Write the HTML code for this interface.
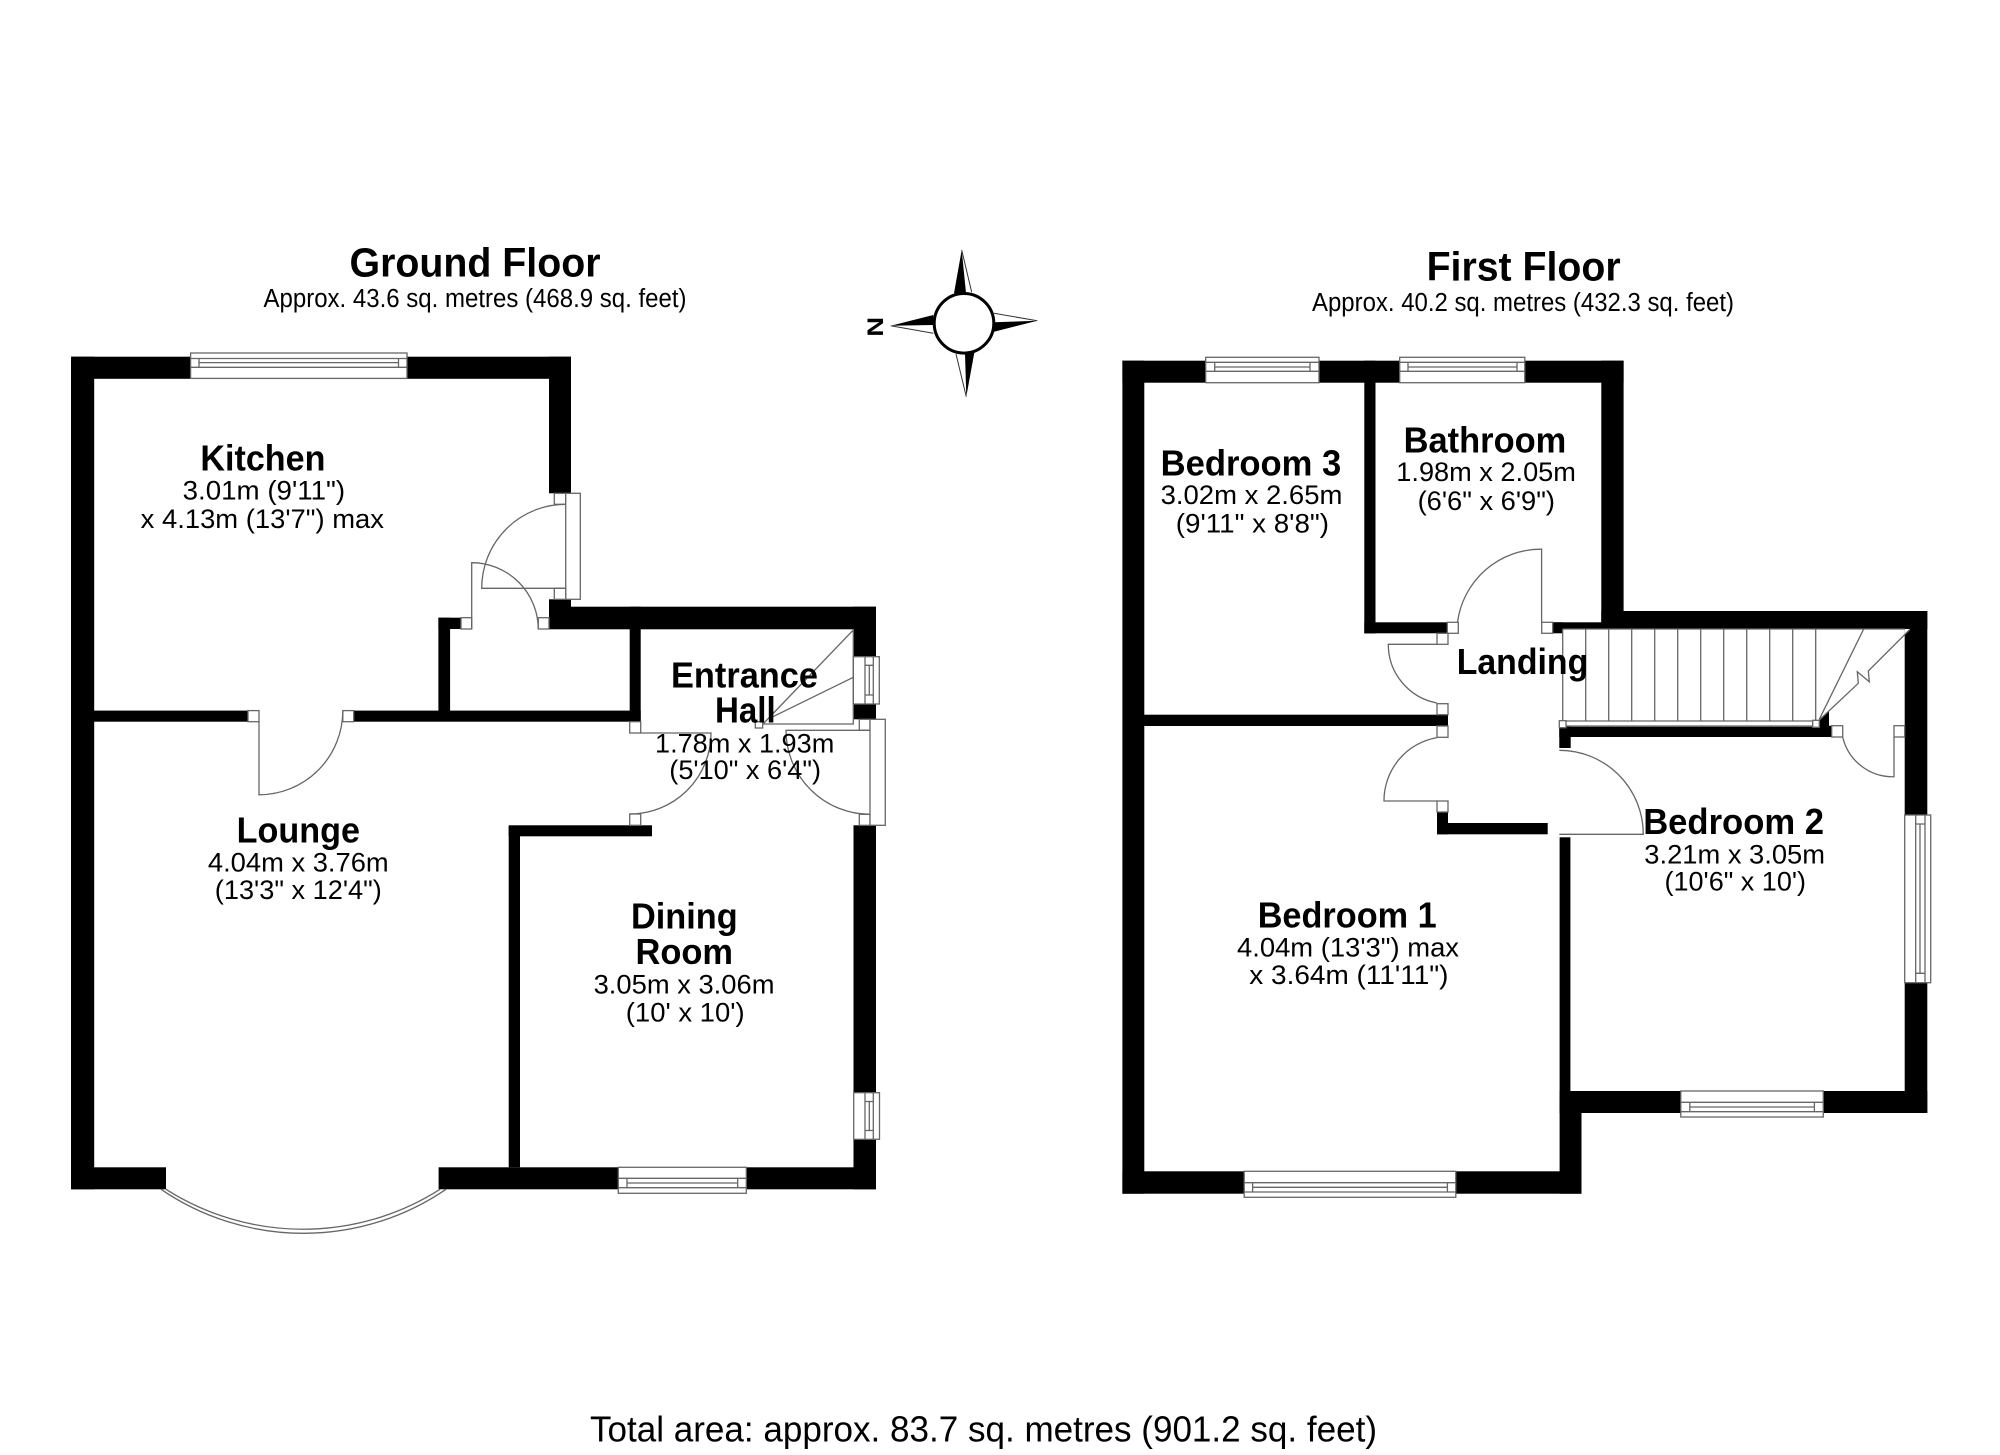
<!DOCTYPE html>
<html><head><meta charset="utf-8"><title>Floor plan</title>
<style>
html,body{margin:0;padding:0;background:#fff;width:2000px;height:1455px;overflow:hidden}
svg{display:block}
text{font-family:"Liberation Sans",Arial,sans-serif;fill:#000}
.b{font-weight:bold;font-size:36px}
.r{font-size:27px}
.l{fill:none;stroke:#666;stroke-width:1.3}
.w{fill:#fff;stroke:#666;stroke-width:1.3}
</style></head><body>
<svg xmlns="http://www.w3.org/2000/svg" width="2000" height="1455" viewBox="0 0 2000 1455">
<rect width="2000" height="1455" fill="#fff"/>

<!-- GROUND FLOOR WALLS -->
<g fill="#000">
<rect x="71" y="356.7" width="23.2" height="832.6"/>
<rect x="71" y="356.7" width="500" height="22.1"/>
<rect x="549" y="356.7" width="22" height="136.6"/>
<rect x="549" y="599.3" width="22" height="10"/>
<rect x="549" y="606.7" width="327" height="22.6"/>
<rect x="438.4" y="617.7" width="23" height="11.3"/>
<rect x="438.4" y="617.7" width="11.7" height="100"/>
<rect x="94" y="710.6" width="154" height="11.1"/>
<rect x="353.7" y="710.6" width="287" height="11.1"/>
<rect x="629.7" y="606.7" width="11" height="115"/>
<rect x="853.3" y="606.7" width="22.7" height="50"/>
<rect x="853.3" y="704" width="22.7" height="15.3"/>
<rect x="853.5" y="825.3" width="22.5" height="364"/>
<rect x="71" y="1167.3" width="95" height="22"/>
<rect x="438.6" y="1167.3" width="437.4" height="22"/>
<rect x="508.7" y="826.3" width="11.3" height="341"/>
<rect x="508.7" y="825.3" width="143.3" height="11"/>
</g>

<!-- GROUND FLOOR WINDOWS -->
<g class="w">
<rect x="190.6" y="353" width="216.4" height="25.4"/>
<rect x="618.3" y="1167.3" width="128" height="26"/>
<rect x="853.3" y="656.7" width="26" height="47.3"/>
<rect x="853.7" y="1092.7" width="25.8" height="46.6"/>
</g>
<path class="l" d="M190.6 358.5H407M199 358.5V367.3M398.5 358.5V367.3M199 362.6H398.5M190.6 367.3H407"/>
<path class="l" d="M618.3 1178.3H746.3M627 1178.3V1187.7M737.7 1178.3V1187.7M627 1183H737.7M618.3 1187.7H746.3"/>
<path class="l" d="M865 656.7V704M873.3 656.7V704M869.3 665.3V695M865 665.3H873.3M865 695H873.3"/>
<path class="l" d="M865 1092.7V1139.3M873.3 1092.7V1139.3M869.3 1101.5V1130.5M865 1101.5H873.3M865 1130.5H873.3"/>

<!-- BAY WINDOW -->
<path class="l" d="M161 1189.3A252.7 252.7 0 0 0 446 1189.3"/>
<path class="l" d="M166 1189.3A255 255 0 0 0 440 1189.3"/>

<!-- GROUND FLOOR DOORS -->
<g class="w">
<rect x="554.3" y="493.3" width="11.4" height="11"/>
<rect x="565.7" y="493.3" width="14.6" height="106"/>
<rect x="554.3" y="588.3" width="11.4" height="11"/>
<rect x="461" y="617.7" width="10.7" height="11.3"/>
<rect x="538.3" y="617.7" width="10.7" height="11.3"/>
<rect x="248" y="710.6" width="11" height="11.1"/>
<rect x="342.8" y="710.6" width="10.9" height="11.1"/>
<rect x="629.7" y="721.7" width="11" height="11.3"/>
<rect x="629.7" y="814" width="11" height="11.3"/>
<rect x="859.3" y="719.3" width="10.7" height="11"/>
<rect x="859.3" y="814.3" width="10.7" height="11"/>
<rect x="870" y="719.3" width="15.3" height="106"/>
<rect x="755.3" y="721.7" width="7.4" height="6.3"/>
</g>
<path class="l" d="M565.7 588.3H481.7A84 84 0 0 1 565.7 504.3"/>
<path class="l" d="M471.7 629V562.7A66.7 66.7 0 0 1 538.3 629"/>
<path class="l" d="M259 721.7V794.8A84 84 0 0 0 342.8 710.6"/>
<path class="l" d="M640.7 733H711A81 81 0 0 1 629.7 814"/>
<path class="l" d="M870 730.3H786A84 84 0 0 0 870 814.3"/>
<!-- hall stair -->
<path class="l" d="M853.3 629V724H762.7M853.3 630L763 724M853.3 677.3L773 716.7"/>

<!-- FIRST FLOOR WALLS -->
<g fill="#000">
<rect x="1122.4" y="360.7" width="21.9" height="833"/>
<rect x="1122.4" y="360.7" width="501.2" height="22"/>
<rect x="1601.3" y="360.7" width="22.3" height="268.5"/>
<rect x="1601.3" y="611" width="326" height="18"/>
<rect x="1904.7" y="611" width="22.6" height="502"/>
<rect x="1364.3" y="360.7" width="11.2" height="272.7"/>
<rect x="1364.3" y="622.3" width="83" height="11"/>
<rect x="1552.7" y="622.3" width="50" height="6.9"/>
<rect x="1552.7" y="622.3" width="10" height="11"/>
<rect x="1144" y="714.7" width="304" height="11.3"/>
<rect x="1437" y="812" width="11" height="22.3"/>
<rect x="1437" y="823" width="110.7" height="11.3"/>
<rect x="1559.3" y="726.7" width="272.4" height="10.3"/>
<rect x="1559.3" y="726.7" width="11.4" height="21.3"/>
<polygon points="1819.3,720 1829,711 1829,725.7 1831.7,725.7 1831.7,737 1815,737 1815,726"/>
<rect x="1559.6" y="837.3" width="10.8" height="276"/>
<rect x="1559.6" y="1091" width="367.7" height="22"/>
<rect x="1559.6" y="1100" width="21.9" height="93.7"/>
<rect x="1122.4" y="1171.3" width="459.1" height="22.4"/>
</g>
<polygon fill="#fff" points="1904.7,629 1910,629 1904.7,635"/>

<!-- FIRST FLOOR WINDOWS -->
<g class="w">
<rect x="1205.7" y="357.3" width="113.3" height="25.4"/>
<rect x="1399.7" y="357.3" width="125.1" height="25.4"/>
<rect x="1244.2" y="1171.3" width="211.6" height="26"/>
<rect x="1680.8" y="1091" width="142.5" height="26"/>
<rect x="1904.7" y="815" width="26" height="167.7"/>
</g>
<path class="l" d="M1205.7 362.3H1319M1205.7 371.3H1319M1214.7 362.3V371.3M1310 362.3V371.3M1214.7 367H1310"/>
<path class="l" d="M1399.7 362.3H1524.8M1399.7 371.3H1524.8M1408 362.3V371.3M1517 362.3V371.3M1408 367H1517"/>
<path class="l" d="M1244.2 1182.7H1455.8M1244.2 1192H1455.8M1252.6 1182.7V1192M1447.4 1182.7V1192M1252.6 1187.3H1447.4"/>
<path class="l" d="M1680.8 1102.3H1823.3M1680.8 1111.7H1823.3M1689.8 1102.3V1111.7M1814.4 1102.3V1111.7M1689.8 1107H1814.4"/>
<path class="l" d="M1915.7 815V982.7M1925 815V982.7M1915.7 824H1925M1915.7 973.3H1925M1920 824V973.3"/>

<!-- FIRST FLOOR DOORS -->
<g class="w">
<rect x="1447.3" y="622.3" width="11" height="11"/>
<rect x="1541.7" y="622.3" width="11" height="11"/>
<rect x="1437" y="633.3" width="11" height="11"/>
<rect x="1437" y="703.7" width="11" height="11"/>
<rect x="1437" y="726" width="11" height="11.3"/>
<rect x="1437" y="801" width="11" height="11"/>
<rect x="1831.7" y="725.7" width="11" height="11.3"/>
<rect x="1894" y="725.7" width="10.7" height="11.3"/>
</g>
<path class="l" d="M1541.6 622.3V549.2A84 84 0 0 0 1457.5 622.3"/>
<path class="l" d="M1437 644.3H1388.3A59.7 59.7 0 0 0 1437 703"/>
<path class="l" d="M1437 801H1384A64 64 0 0 1 1437 737.6"/>
<path class="l" d="M1559.3 750.3A84 84 0 0 1 1643.3 834.3H1559.3"/>
<path class="l" d="M1842.7 737A51.3 51.3 0 0 0 1894 776.7V737"/>

<!-- STAIRS -->
<path class="l" d="M1562.7 629V720.7M1562.7 629H1905M1562.7 721H1815.7M1566 726H1813"/>
<path class="l" d="M1585.7 629V721M1608.7 629V721M1631.7 629V721M1654.7 629V721M1677.7 629V721M1700.7 629V721M1723.7 629V721M1746.7 629V721M1769.7 629V721M1792.7 629V721M1815.7 629V721"/>
<path class="l" d="M1819.3 719.3L1863.7 629M1819.3 720L1858.3 683.3L1857.3 671.7L1869.3 681.7L1868.3 671L1910 629.3"/>
<g class="w">
<rect x="1559.3" y="720.7" width="6.7" height="7"/>
<rect x="1812.7" y="720.3" width="6.6" height="7"/>
</g>

<!-- COMPASS -->
<polygon fill="#000" points="961.7,250 954,293.3 966,293"/>
<path fill="none" stroke="#333" stroke-width="1" d="M961.7 250L971.7 292.3"/>
<polygon fill="#000" points="1037.3,320.7 994,322.3 994,331.7"/>
<path fill="none" stroke="#333" stroke-width="1" d="M1037.3 320.7L994 313.3"/>
<polygon fill="#000" points="966.3,396.7 965,353.3 974.3,352.7"/>
<path fill="none" stroke="#333" stroke-width="1" d="M966.3 396.7L956 354"/>
<polygon fill="#000" points="890.7,325.7 933.3,315 933.3,325"/>
<path fill="none" stroke="#333" stroke-width="1" d="M890.7 325.7L933.3 333.3"/>
<circle cx="964" cy="323.3" r="29.8" fill="#fff" stroke="#000" stroke-width="3"/>
<text transform="translate(867.5,326.8) rotate(90) scale(1.25,1)" text-anchor="middle" style="font-weight:bold;font-size:22px" y="0" x="0">N</text>

<!-- TITLES -->
<text x="349.5" y="276.6" style="font-weight:bold;font-size:41px" textLength="251" lengthAdjust="spacingAndGlyphs">Ground Floor</text>
<text x="263.5" y="307" style="font-size:25.5px" textLength="423" lengthAdjust="spacingAndGlyphs">Approx. 43.6 sq. metres (468.9 sq. feet)</text>
<text x="1426.6" y="280.3" style="font-weight:bold;font-size:41px" textLength="194" lengthAdjust="spacingAndGlyphs">First Floor</text>
<text x="1312" y="311.2" style="font-size:25.5px" textLength="422" lengthAdjust="spacingAndGlyphs">Approx. 40.2 sq. metres (432.3 sq. feet)</text>
<text x="590" y="1441.7" style="font-size:36px" textLength="787" lengthAdjust="spacingAndGlyphs">Total area: approx. 83.7 sq. metres (901.2 sq. feet)</text>

<!-- ROOM LABELS GROUND -->
<text class="b" x="200.4" y="470.3" textLength="125" lengthAdjust="spacingAndGlyphs">Kitchen</text>
<text class="r" x="182.6" y="499.4" textLength="162.5" lengthAdjust="spacingAndGlyphs">3.01m (9'11")</text>
<text class="r" x="140.7" y="528" textLength="243.3" lengthAdjust="spacingAndGlyphs">x 4.13m (13'7") max</text>

<text class="b" x="671" y="687.3" textLength="147" lengthAdjust="spacingAndGlyphs">Entrance</text>
<text class="b" x="715" y="722.3" textLength="60.7" lengthAdjust="spacingAndGlyphs">Hall</text>
<text class="r" x="655" y="752.7" textLength="179.3" lengthAdjust="spacingAndGlyphs">1.78m x 1.93m</text>
<text class="r" x="669.3" y="779" textLength="151.7" lengthAdjust="spacingAndGlyphs">(5'10" x 6'4")</text>

<text class="b" x="236.6" y="842.3" textLength="123.4" lengthAdjust="spacingAndGlyphs">Lounge</text>
<text class="r" x="207.9" y="871.3" textLength="180.8" lengthAdjust="spacingAndGlyphs">4.04m x 3.76m</text>
<text class="r" x="214.8" y="899" textLength="167" lengthAdjust="spacingAndGlyphs">(13'3" x 12'4")</text>

<text class="b" x="631" y="928.7" textLength="106.7" lengthAdjust="spacingAndGlyphs">Dining</text>
<text class="b" x="635.5" y="964" textLength="97.5" lengthAdjust="spacingAndGlyphs">Room</text>
<text class="r" x="593.6" y="993.7" textLength="180.9" lengthAdjust="spacingAndGlyphs">3.05m x 3.06m</text>
<text class="r" x="625.8" y="1021.3" textLength="118.8" lengthAdjust="spacingAndGlyphs">(10' x 10')</text>

<!-- ROOM LABELS FIRST -->
<text class="b" x="1160.6" y="475.3" textLength="180.7" lengthAdjust="spacingAndGlyphs">Bedroom 3</text>
<text class="r" x="1160.6" y="504" textLength="181.8" lengthAdjust="spacingAndGlyphs">3.02m x 2.65m</text>
<text class="r" x="1175.8" y="532.6" textLength="153.2" lengthAdjust="spacingAndGlyphs">(9'11" x 8'8")</text>

<text class="b" x="1403.6" y="452.3" textLength="162.7" lengthAdjust="spacingAndGlyphs">Bathroom</text>
<text class="r" x="1396.3" y="481.2" textLength="179.6" lengthAdjust="spacingAndGlyphs">1.98m x 2.05m</text>
<text class="r" x="1417.6" y="510" textLength="137.4" lengthAdjust="spacingAndGlyphs">(6'6" x 6'9")</text>

<text class="b" x="1456.7" y="674" textLength="131.6" lengthAdjust="spacingAndGlyphs">Landing</text>

<text class="b" x="1643.2" y="834" textLength="180.8" lengthAdjust="spacingAndGlyphs">Bedroom 2</text>
<text class="r" x="1644.3" y="863.3" textLength="180.7" lengthAdjust="spacingAndGlyphs">3.21m x 3.05m</text>
<text class="r" x="1664.5" y="890.7" textLength="141.5" lengthAdjust="spacingAndGlyphs">(10'6" x 10')</text>

<text class="b" x="1257.7" y="927.3" textLength="179" lengthAdjust="spacingAndGlyphs">Bedroom 1</text>
<text class="r" x="1237" y="956.7" textLength="222" lengthAdjust="spacingAndGlyphs">4.04m (13'3") max</text>
<text class="r" x="1249.3" y="984" textLength="199.2" lengthAdjust="spacingAndGlyphs">x 3.64m (11'11")</text>
</svg>
</body></html>
